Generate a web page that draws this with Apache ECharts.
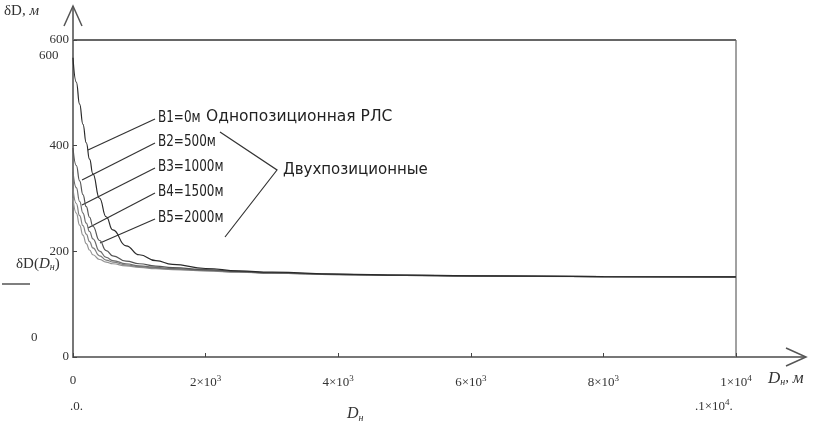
<!DOCTYPE html>
<html>
<head>
<meta charset="utf-8">
<script src="https://cdn.jsdelivr.net/npm/echarts@6/dist/echarts.min.js"></script>
<style>
  html, body { margin: 0; padding: 0; background: #fff; }
  #chart { width: 819px; height: 438px; }
</style>
</head>
<body>
<div id="chart"></div>
<script>
// range D_n, m
var dn = [0, 50, 100, 150, 200, 250, 300, 400, 500, 600, 800, 1000, 1250, 1500, 2000, 2500, 3000, 4000, 5000, 6000, 8000, 10000];
// range error dD, m for each base B
var b1 = [566.5, 520.5, 478.5, 440.5, 405.5, 374.5, 346.5, 300.5, 265.5, 240.5, 210.5, 193.5, 182.5, 175.5, 167.5, 163, 160.5, 157, 155, 153.7, 152.3, 151.5];
var b2 = [395.5, 362.5, 333.5, 307.5, 284.5, 264.5, 247.5, 220.5, 201.5, 191.5, 181.5, 176.5, 172, 169, 165.5, 162, 159.5, 156.5, 154.7, 153.5, 152.2, 151.5];
var b3 = [350.5, 320.5, 294.5, 272.5, 253.5, 237.5, 223.5, 200.5, 188.5, 182.5, 176.5, 172.5, 169.5, 167.5, 164.5, 161.5, 159, 156.2, 154.5, 153.5, 152.2, 151.5];
var b4 = [318.5, 290.5, 267.5, 248.5, 232.5, 218.5, 206.5, 191.5, 183.5, 179.5, 174.5, 171, 168, 166.5, 163.5, 161, 158.7, 156, 154.4, 153.4, 152.2, 151.5];
var b5 = [300.5, 272.5, 249.5, 230.5, 214.5, 202.5, 193.5, 184.5, 179.5, 176.5, 172.5, 169.5, 167, 165.5, 163, 160.5, 158.5, 155.8, 154.3, 153.3, 152.1, 151.5];
var seriesNames = ['B1=0м', 'B2=500м', 'B3=1000м', 'B4=1500м', 'B5=2000м'];
var xTicks = {0: '0', 2000: '2×10{s|3}', 4000: '4×10{s|3}', 6000: '6×10{s|3}', 8000: '8×10{s|3}', 10000: '1×10{s|4}'};

var serif = '"Liberation Serif", "DejaVu Serif", serif';
var sans = '"DejaVu Sans", sans-serif';
var chart = echarts.init(document.getElementById('chart'));

function pts(vals) {
    return dn.map(function(d, i) { return [d, vals[i]]; });
}

var colors = ['#2a2a2a', '#555', '#6e6e6e', '#808080', '#939393'];
var series = [b1, b2, b3, b4, b5].map(function(v, i) {
    return {
        name: seriesNames[i],
        type: 'line',
        data: pts(v),
        smooth: 0.5,
        smoothMonotone: 'x',
        showSymbol: false,
        lineStyle: { color: colors[i], width: 1.2 },
        z: 3 + (5 - i)
    };
});

// leader lines from the labels to the curves
var leaders = [
    [[155, 119], [88, 150]],
    [[155, 143], [82, 180]],
    [[155, 168], [82, 205]],
    [[155, 193], [88, 228]],
    [[155, 219], [100, 243]]
];
var graphics = [];
leaders.forEach(function(l, i) {
    graphics.push({ type: 'line', shape: { x1: l[0][0], y1: l[0][1], x2: l[1][0], y2: l[1][1] }, style: { stroke: '#333', lineWidth: 1.2 } });
    graphics.push({ type: 'text', x: 158, y: l[0][1] - 1, scaleX: 0.75, style: { x: 0, y: 0, text: seriesNames[i], font: '16px ' + sans, fill: '#222', textVerticalAlign: 'middle' } });
});
graphics = graphics.concat([
    { type: 'text', x: 206, y: 117, style: { text: 'Однопозиционная РЛС', font: '15.5px ' + sans, fill: '#222', textVerticalAlign: 'middle' } },
    { type: 'text', x: 283, y: 170, style: { text: 'Двухпозиционные', font: '15px ' + sans, fill: '#222', textVerticalAlign: 'middle' } },
    { type: 'polyline', shape: { points: [[220, 132], [277, 170], [225, 237]] }, style: { stroke: '#333', lineWidth: 1.2, fill: null } },
    // axis extensions and arrows
    { type: 'line', shape: { x1: 73, y1: 40, x2: 73, y2: 6 }, style: { stroke: '#777', lineWidth: 2 } },
    { type: 'polyline', shape: { points: [[64, 26], [73, 6], [82, 26]] }, style: { stroke: '#555', lineWidth: 1.5, fill: null } },
    { type: 'line', shape: { x1: 736, y1: 357, x2: 805, y2: 357 }, style: { stroke: '#777', lineWidth: 2 } },
    { type: 'polyline', shape: { points: [[786, 348], [806, 357], [786, 366]] }, style: { stroke: '#555', lineWidth: 1.5, fill: null } },
    { type: 'line', shape: { x1: 73, y1: 40, x2: 736, y2: 40 }, style: { stroke: '#666', lineWidth: 2 } },
    // captions
    { type: 'text', left: 4, top: 4, style: { text: '{a|δD, }{b|м}', rich: { a: { font: '15px ' + serif, fill: '#333' }, b: { font: 'italic 15px ' + serif, fill: '#333' } } } },
    { type: 'text', left: 768, top: 370, style: { text: '{b|D}{c|н}{a|, }{b|м}', rich: { a: { font: '15px ' + serif, fill: '#333' }, b: { font: 'italic 17px ' + serif, fill: '#333' }, c: { font: 'italic 10px ' + serif, fill: '#333', padding: [8, 0, 0, 0] } } } },
    { type: 'text', left: 39, top: 49, style: { text: '600', font: '13px ' + serif, fill: '#333' } },
    { type: 'text', left: 31, top: 331, style: { text: '0', font: '13px ' + serif, fill: '#333' } },
    { type: 'text', left: 16, top: 257, style: { text: '{a|δD(}{b|D}{c|н}{a|)}', rich: { a: { font: '15px ' + serif, fill: '#333' }, b: { font: 'italic 15px ' + serif, fill: '#333' }, c: { font: 'italic 10px ' + serif, fill: '#333', padding: [6, 0, 0, 0] } } } },
    { type: 'line', shape: { x1: 2, y1: 284, x2: 30, y2: 284 }, style: { stroke: '#555', lineWidth: 1.5 } },
    { type: 'text', left: 70, top: 400, style: { text: '.0.', font: '13px ' + serif, fill: '#333' } },
    { type: 'text', left: 347, top: 406, style: { text: '{b|D}{c|н}', rich: { b: { font: 'italic 16px ' + serif, fill: '#333' }, c: { font: 'italic 10px ' + serif, fill: '#333', padding: [8, 0, 0, 0] } } } },
    { type: 'text', left: 695, top: 398, style: { text: '{a|.1×10}{s|4}{a|.}', rich: { a: { font: '13px ' + serif, fill: '#333' }, s: { font: '9px ' + serif, fill: '#333', padding: [0, 0, 8, 0] } } } }
]);

chart.setOption({
    animation: false,
    backgroundColor: '#fff',
    grid: { left: 73, right: 83, top: 40, bottom: 81, show: true, borderColor: '#444', borderWidth: 1 },
    xAxis: {
        type: 'value', min: 0, max: 10000, interval: 2000,
        axisLine: { lineStyle: { color: '#777', width: 2 } },
        axisTick: { inside: true, length: 4, lineStyle: { color: '#444' } },
        splitLine: { show: false },
        axisLabel: {
            margin: 17, color: '#333', fontFamily: serif, fontSize: 13,
            formatter: function(v) { return xTicks[v] || ''; },
            rich: { s: { fontSize: 9, fontFamily: serif, color: '#333', padding: [0, 0, 8, 0] } }
        }
    },
    yAxis: {
        type: 'value', min: 0, max: 600, interval: 200,
        axisLine: { lineStyle: { color: '#777', width: 2 } },
        axisTick: { inside: true, length: 4, lineStyle: { color: '#444' } },
        splitLine: { show: false },
        axisLabel: { margin: 4, color: '#333', fontFamily: serif, fontSize: 13 }
    },
    series: series,
    graphic: graphics
});
</script>
</body>
</html>
